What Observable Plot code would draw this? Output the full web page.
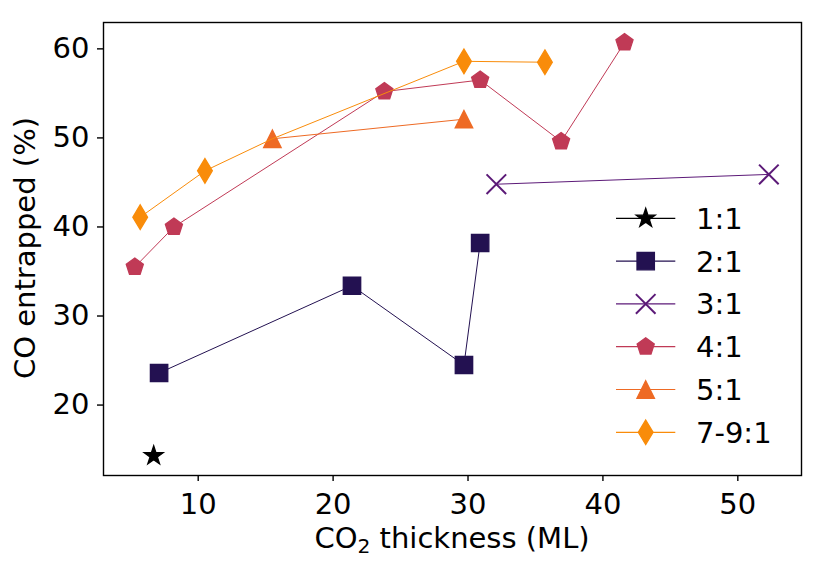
<!DOCTYPE html>
<html>
<head>
<meta charset="utf-8">
<script src="https://cdn.jsdelivr.net/npm/d3@7"></script>
<script src="https://cdn.jsdelivr.net/npm/@observablehq/plot@0.6"></script>
<style>
  html, body { margin: 0; padding: 0; background: #fff; }
  #chart { position: relative; width: 824px; height: 571px; }
  #chart svg text { font-family: "DejaVu Sans", sans-serif; }
  #legend { position: absolute; left: 0; top: 0; pointer-events: none; }
</style>
</head>
<body>
<div id="chart"></div>
<script>
// CO trapped in CO2 ice, grouped by CO2:CO mixing ratio
const ratios = ["1:1", "2:1", "3:1", "4:1", "5:1", "7-9:1"];
const colors = ["#000000", "#231151", "#5c1a78", "#c03a56", "#ee6a24", "#f98c0a"];

// CO2 thickness (ML) and CO entrapped (%) per ratio
const x11 = [6.7];
const y11 = [14.3];
const x21 = [7.1, 21.4, 29.7, 30.9];
const y21 = [23.6, 33.4, 24.5, 38.2];
const x31 = [32.1, 52.3];
const y31 = [44.8, 45.9];
const x41 = [5.3, 8.2, 23.8, 30.9, 36.9, 41.6];
const y41 = [35.5, 40.0, 55.2, 56.5, 49.6, 60.7];
const x51 = [15.5, 29.7];
const y51 = [49.9, 52.1];
const x79 = [5.7, 10.5, 15.5, 29.7, 35.7];
const y79 = [41.1, 46.3, 49.9, 58.6, 58.5];

const xTicks = [10, 20, 30, 40, 50];
const yTicks = [20, 30, 40, 50, 60];

// marker shapes, sized from the symbol area Plot passes in (size = pi r^2)
const shape = (fn) => ({ draw(ctx, size) { fn(ctx, Math.sqrt(size / Math.PI)); } });
const poly = (ctx, pts) => { pts.forEach(([x, y], i) => i ? ctx.lineTo(x, y) : ctx.moveTo(x, y)); ctx.closePath(); };
const star = shape((c, r) => poly(c, d3.range(10).map(i => {
  const rr = i % 2 ? r * 0.381966 : r, a = -Math.PI / 2 + i * Math.PI / 5;
  return [rr * Math.cos(a), rr * Math.sin(a)];
})));
const square = shape((c, r) => poly(c, [[-r, -r], [r, -r], [r, r], [-r, r]]));
const cross = shape((c, r) => { c.moveTo(-r, -r); c.lineTo(r, r); c.moveTo(-r, r); c.lineTo(r, -r); });
const pentagon = shape((c, r) => poly(c, d3.range(5).map(i => {
  const a = -Math.PI / 2 + i * 2 * Math.PI / 5;
  return [r * Math.cos(a), r * Math.sin(a)];
})));
const triangle = shape((c, r) => poly(c, [[0, -r], [r, r], [-r, r]]));
const thinDiamond = shape((c, r) => {
  const h = r * Math.SQRT2, w = 0.6 * h;
  poly(c, [[0, -h], [w, 0], [0, h], [-w, 0]]);
});

const symbols = [star, square, cross, pentagon, triangle, thinDiamond];
const radii = [10, 8.7, 9.8, 9, 8.75, 8.7];
const filled = [true, true, false, true, true, true];

const xs = [x11, x21, x31, x41, x51, x79];
const ys = [y11, y21, y31, y41, y51, y79];
const series = ratios.map((ratio, i) =>
  xs[i].map((x, j) => ({ratio, x, y: ys[i][j]})));

// a 7-9:1 point that coincides with a 5:1 point is shown by the 5:1 triangle
const sharedWith51 = (d) => d.ratio === "7-9:1" &&
  x51.some((x, j) => x === d.x && y51[j] === d.y);

const FONT = 29;
const marks = [];
series.forEach((rows, i) => {
  if (rows.length > 1) {
    marks.push(Plot.line(rows, {x: "x", y: "y", stroke: colors[i], strokeWidth: 1}));
  }
  marks.push(Plot.dot(rows.filter(d => !sharedWith51(d)), {
    x: "x", y: "y",
    symbol: symbols[i], r: radii[i],
    fill: filled[i] ? colors[i] : "none",
    stroke: colors[i],
    strokeWidth: filled[i] ? 1.3 : 2
  }));
});

const plot = Plot.plot({
  width: 824,
  height: 571,
  marginLeft: 103,
  marginRight: 23,
  marginTop: 22,
  marginBottom: 96,
  style: {fontFamily: "DejaVu Sans", fontSize: FONT + "px", background: "white", color: "black"},
  x: {domain: [2.98, 54.72]},
  y: {domain: [12.09, 62.96]},
  marks: [
    ...marks,
    Plot.frame({stroke: "black", strokeWidth: 1.4}),
    Plot.axisX({ticks: xTicks, tickSize: 6, tickPadding: 12, strokeWidth: 1.4, label: null, fontSize: FONT}),
    Plot.axisY({ticks: yTicks, tickSize: 6, tickPadding: 8, strokeWidth: 1.4, label: null, fontSize: FONT})
  ]
});

const chart = document.getElementById("chart");
chart.appendChild(plot);

// axis titles
const svg = d3.select(plot);
const xt = svg.append("text")
  .attr("x", 452).attr("y", 548)
  .attr("text-anchor", "middle")
  .attr("font-size", FONT).attr("fill", "black");
xt.append("tspan").text("CO");
xt.append("tspan").attr("dy", 5).attr("font-size", FONT * 0.7).text("2");
xt.append("tspan").attr("dy", -5).text(" thickness (ML)");

svg.append("text")
  .attr("transform", "translate(35,248) rotate(-90)")
  .attr("text-anchor", "middle")
  .attr("font-size", FONT).attr("fill", "black")
  .text("CO entrapped (%)");

// legend: line + marker sample and ratio label per series
const lg = d3.select(chart).append("svg")
  .attr("id", "legend").attr("width", 824).attr("height", 571);
ratios.forEach((ratio, i) => {
  const cy = 218.3 + i * 42.8;
  const g = lg.append("g");
  g.append("line").attr("x1", 616).attr("x2", 675.3).attr("y1", cy).attr("y2", cy)
    .attr("stroke", colors[i]).attr("stroke-width", 1.2);
  g.append("path")
    .attr("transform", `translate(645.7,${cy})`)
    .attr("d", d3.symbol(symbols[i], Math.PI * radii[i] * radii[i])())
    .attr("fill", filled[i] ? colors[i] : "none")
    .attr("stroke", colors[i])
    .attr("stroke-width", filled[i] ? 1.3 : 2);
  g.append("text").attr("x", 696).attr("y", cy + 10.5)
    .attr("font-size", FONT).attr("fill", "black").text(ratio);
});
</script>
</body>
</html>
